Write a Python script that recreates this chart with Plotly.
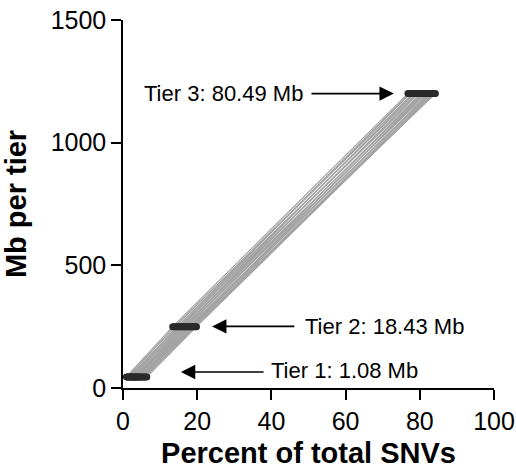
import plotly.graph_objects as go

# Per-sample percent of total SNVs falling in each tier
tier1_pct = [0.9, 1.2, 1.4, 1.7, 1.9, 2.1, 2.3, 2.4, 2.7, 2.9, 3.1, 3.2,
             3.5, 3.6, 3.9, 4.1, 4.3, 4.6, 4.8, 5.1, 5.4, 5.7, 6.0, 6.4]
tier2_pct = [13.4, 14.1, 13.9, 14.8, 15.2, 14.6, 15.7, 16.1, 15.4, 16.6, 17.0, 16.3,
             17.4, 17.9, 16.9, 18.2, 18.6, 17.7, 19.0, 18.4, 19.3, 19.6, 18.9, 19.8]
tier3_pct = [76.8, 77.5, 78.1, 77.2, 78.6, 79.0, 78.4, 79.6, 80.2, 79.3, 80.8, 81.1,
             80.5, 81.6, 82.0, 81.3, 82.4, 82.9, 83.2, 82.6, 83.5, 83.9, 84.2, 83.7]
# Mb per tier (y positions of the three tiers)
tier_mb = [45, 250, 1200]
tier_labels = ["Tier 1: 1.08 Mb", "Tier 2: 18.43 Mb", "Tier 3: 80.49 Mb"]

x_ticks = [0, 20, 40, 60, 80, 100]
y_ticks = [0, 500, 1000, 1500]

FONT = "Liberation Sans, Arial, sans-serif"

fig = go.Figure()

for a, b, c in zip(tier1_pct, tier2_pct, tier3_pct):
    fig.add_trace(go.Scatter(x=[a, b, c], y=tier_mb, mode="lines",
                             line=dict(color="#a3a3a3", width=1.2),
                             showlegend=False, hoverinfo="skip"))

for pcts, mb in zip([tier1_pct, tier2_pct, tier3_pct], tier_mb):
    fig.add_trace(go.Scatter(x=pcts, y=[mb] * len(pcts), mode="markers",
                             marker=dict(color="#2a2a2a", size=7),
                             showlegend=False))

# arrows (tail -> tip) and labels
arrows = [
    dict(tail=(38.3, 65), tip=(15.6, 65), text_at=(39.4, 73), anchor="left"),
    dict(tail=(46.6, 251), tip=(24.0, 251), text_at=(48.5, 251), anchor="left"),
    dict(tail=(50.4, 1200), tip=(73.0, 1200), text_at=(49.1, 1200), anchor="right"),
]
for arr, lab in zip(arrows, tier_labels):
    fig.add_annotation(x=arr["tip"][0], y=arr["tip"][1], ax=arr["tail"][0], ay=arr["tail"][1],
                       axref="x", ayref="y", xref="x", yref="y", text="",
                       showarrow=True, arrowhead=2, arrowsize=1.8, arrowwidth=1.6,
                       arrowcolor="black")
    fig.add_annotation(x=arr["text_at"][0], y=arr["text_at"][1], xref="x", yref="y",
                       text=lab, showarrow=False, xanchor=arr["anchor"], yanchor="middle",
                       font=dict(family=FONT, size=22, color="black"))

axis_common = dict(showline=True, linecolor="black", linewidth=1.5, ticks="outside",
                   ticklen=10, tickwidth=1.5, tickcolor="black", showgrid=False,
                   zeroline=False, automargin=False,
                   tickfont=dict(family=FONT, size=25, color="black"))

fig.update_xaxes(range=[0, 100], tickvals=x_ticks, **axis_common,
                 title=dict(text="<b>Percent of total SNVs</b>", standoff=14,
                            font=dict(family=FONT, size=29, color="black")))
fig.update_yaxes(range=[0, 1500], tickvals=y_ticks, **axis_common,
                 title=dict(text="<b>Mb per tier</b>", standoff=16,
                            font=dict(family=FONT, size=29, color="black")))

fig.update_layout(width=516, height=469, margin=dict(l=123, r=22, t=20, b=81),
                  plot_bgcolor="white", paper_bgcolor="white", showlegend=False)

fig.write_html("out.html")
